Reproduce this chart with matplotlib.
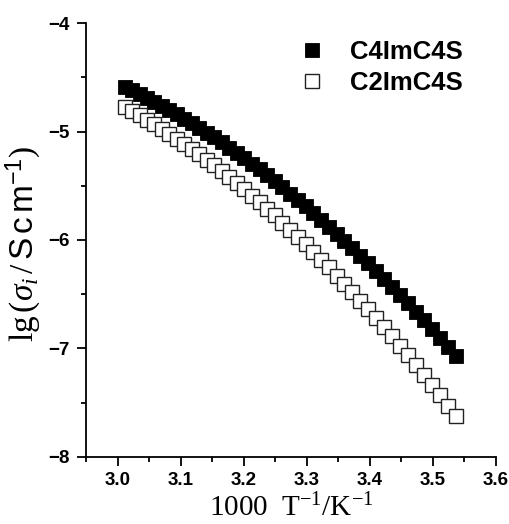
import matplotlib
matplotlib.use("Agg")
import matplotlib.pyplot as plt
from matplotlib.ticker import MultipleLocator
from matplotlib import font_manager
from matplotlib.font_manager import FontProperties

# ---- data ----
inv_T = [3.0120, 3.0236, 3.0352, 3.0469, 3.0586, 3.0703, 3.0820, 3.0938, 3.1056, 3.1174,
         3.1293, 3.1412, 3.1531, 3.1650, 3.1770, 3.1890, 3.2010, 3.2131, 3.2252, 3.2373,
         3.2494, 3.2616, 3.2738, 3.2860, 3.2983, 3.3106, 3.3229, 3.3352, 3.3476, 3.3600,
         3.3724, 3.3849, 3.3974, 3.4099, 3.4224, 3.4350, 3.4476, 3.4602, 3.4729, 3.4856,
         3.4983, 3.5110, 3.5238, 3.5366]
c4_lg = [-4.585, -4.618, -4.652, -4.687, -4.724, -4.761, -4.799, -4.839, -4.880, -4.921,
         -4.964, -5.009, -5.054, -5.100, -5.148, -5.197, -5.246, -5.298, -5.350, -5.404,
         -5.458, -5.514, -5.572, -5.630, -5.690, -5.751, -5.813, -5.876, -5.941, -6.007,
         -6.075, -6.144, -6.214, -6.285, -6.357, -6.431, -6.507, -6.583, -6.662, -6.741,
         -6.822, -6.904, -6.987, -7.072]
c2_lg = [-4.775, -4.813, -4.852, -4.892, -4.933, -4.976, -5.020, -5.065, -5.112, -5.159,
         -5.209, -5.259, -5.311, -5.364, -5.419, -5.475, -5.532, -5.590, -5.650, -5.712,
         -5.774, -5.839, -5.904, -5.971, -6.040, -6.109, -6.181, -6.253, -6.328, -6.403,
         -6.480, -6.559, -6.640, -6.721, -6.804, -6.889, -6.975, -7.063, -7.153, -7.244,
         -7.336, -7.430, -7.526, -7.623]
series_names = ["C4ImC4S", "C2ImC4S"]
x_ticks = [3.0, 3.1, 3.2, 3.3, 3.4, 3.5, 3.6]
y_ticks = [-8, -7, -6, -5, -4]

available = {f.name for f in font_manager.fontManager.ttflist}
tick_family = "Liberation Sans Narrow" if "Liberation Sans Narrow" in available else "Liberation Sans"

# regular-width bold Liberation Sans file for the legend
legend_fp = None
for f in font_manager.fontManager.ttflist:
    if (f.name == "Liberation Sans" and "narrow" not in f.fname.lower()
            and f.weight in (700, "bold") and f.style == "normal"):
        legend_fp = FontProperties(fname=f.fname, size=18.5)
        break
if legend_fp is None:
    legend_fp = FontProperties(family="DejaVu Sans", weight="bold", size=16)

plt.rcParams["mathtext.fontset"] = "custom"
plt.rcParams["mathtext.rm"] = "Liberation Serif"
plt.rcParams["mathtext.it"] = "Liberation Serif:italic"
plt.rcParams["mathtext.sf"] = "Liberation Sans"

fig = plt.figure(figsize=(5.09, 5.24), dpi=100)
ax = fig.add_axes([0.169, 0.128, 0.805, 0.828])

ax.plot(inv_T, c4_lg, linestyle="none", marker="s", markersize=9.6,
        markerfacecolor="black", markeredgecolor="black", markeredgewidth=0.6,
        label=series_names[0])
ax.plot(inv_T, c2_lg, linestyle="none", marker="s", markersize=9.6,
        markerfacecolor="white", markeredgecolor="#222222", markeredgewidth=1.0,
        label=series_names[1])

ax.set_xlim(2.95, 3.6)
ax.set_ylim(-8, -4)
ax.set_xticks(x_ticks)
ax.set_yticks(y_ticks)
ax.xaxis.set_minor_locator(MultipleLocator(0.05))
ax.yaxis.set_minor_locator(MultipleLocator(0.5))
ax.set_xticklabels([f"{v:.1f}" for v in x_ticks])
ax.set_yticklabels([f"\u2212{abs(v)}" for v in y_ticks])

for s in ["top", "right"]:
    ax.spines[s].set_visible(False)
for s in ["left", "bottom"]:
    ax.spines[s].set_linewidth(1.3)

ax.tick_params(which="major", direction="out", length=6.5, width=1.3)
ax.tick_params(which="minor", direction="out", length=3.5, width=1.3)
ax.tick_params(axis="x", which="major", pad=4.5)
ax.tick_params(axis="y", which="major", pad=5)
for lab in ax.get_xticklabels() + ax.get_yticklabels():
    lab.set_fontfamily(tick_family)
    lab.set_fontweight("bold")
    lab.set_fontsize(13.5)

ax.set_xlabel(r"$\mathrm{1000\ \ T^{-1}/K^{-1}}$", fontsize=21, labelpad=3)
ax.set_ylabel(r"$\mathrm{lg}\,(\sigma_i\,/\,\mathsf{S\,c\,m}^{\mathsf{-1}})$", fontsize=24)
ax.yaxis.set_label_coords(-0.105, 0.49)

leg = ax.legend(loc="upper left", bbox_to_anchor=(0.465, 1.015), frameon=False,
                prop=legend_fp, handletextpad=1.0, labelspacing=0.3, handlelength=0.95)

fig.savefig("out.png", dpi=100)
